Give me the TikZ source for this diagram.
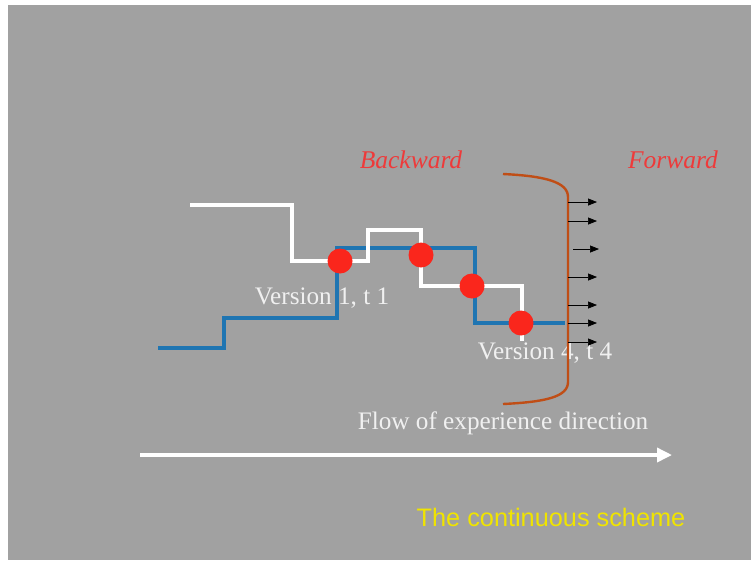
\documentclass[tikz,border=0pt]{standalone}
\usepackage{fontspec}
\setmainfont{Liberation Serif}
\newfontfamily\captionfont{Liberation Sans}
\usepackage{tikz}
\usetikzlibrary{arrows.meta}
\definecolor{slidegray}{RGB}{161,161,161}
\definecolor{stepblue}{RGB}{31,117,178}
\definecolor{dotred}{RGB}{250,38,28}
\definecolor{labelred}{RGB}{238,58,58}
\definecolor{braceorange}{RGB}{192,78,22}
\definecolor{captionyellow}{RGB}{240,228,0}
\tikzset{>={Stealth[scale=1]}}
\tikzset{
    versionline/.style={white, line width=4pt},
    flowline/.style={stepblue, line width=4pt},
    versiondot/.style={circle, fill=dotred, minimum size=25pt, inner sep=0pt},
    slidetext/.style={inner sep=0pt, font=\fontsize{25.2}{29}\selectfont},
    sidetext/.style={slidetext, text=labelred, font=\fontsize{25.5}{29}\selectfont\itshape},
    probe/.style={-{Triangle[length=9pt,width=7pt]}, black, line width=0.7pt}
}

\begin{document}
\begin{tikzpicture}[x=1pt, y=-1pt]
        \fill[white] (0, 0) rectangle (751, 560);
        \useasboundingbox (0, 0) rectangle (751, 560);
        \fill[slidegray] (8, 5) rectangle (751, 560);
        % labels
        \node[sidetext] (backward) at (411, 160) {Backward};
        \node[sidetext] (forward) at (673, 160) {Forward};
        \node[slidetext, text=white!94!black] (first) at (322, 298) {Version 1, t 1};
        \node[slidetext, text=white!94!black] (last) at (545, 353) {Version 4, t 4};
        \node[slidetext, text=white!94!black] (flow) at (503, 423) {Flow of experience direction};
        \node[inner sep=0pt, text=captionyellow, font=\captionfont\fontsize{25.3}{29}\selectfont] (scheme) at (551, 517) {The continuous scheme};
        % the two step curves
        \draw[flowline] (158, 348) -- (224, 348) -- (224, 318) -- (337, 318) -- (337, 248)
            -- (475, 248) -- (475, 323) -- (565, 323);
        \draw[versionline] (190, 205) -- (292, 205) -- (292, 261) -- (368, 261) -- (368, 230)
            -- (421, 230) -- (421, 286) -- (522, 286) -- (522, 341);
        \node[versiondot] (v1) at (340, 261) {};
        \node[versiondot] (v2) at (421, 255) {};
        \node[versiondot] (v3) at (472, 286) {};
        \node[versiondot] (v4) at (521, 323) {};
        % front
        \draw[braceorange, line width=2.4pt] (503, 174) .. controls (545, 176) and (568, 182) .. (568, 197)
            -- (568, 382) .. controls (568, 397) and (545, 402) .. (503, 404);
        \foreach \y in {202, 221, 277, 305, 323, 342}
            \draw[probe] (568, \y) -- (597, \y);
        \draw[probe] (573, 249) -- (599, 249);
        \draw[white, line width=3.5pt, -{Triangle[length=15pt,width=14pt]}] (140, 455) -- (672, 455);
    \end{tikzpicture}
\end{document}
